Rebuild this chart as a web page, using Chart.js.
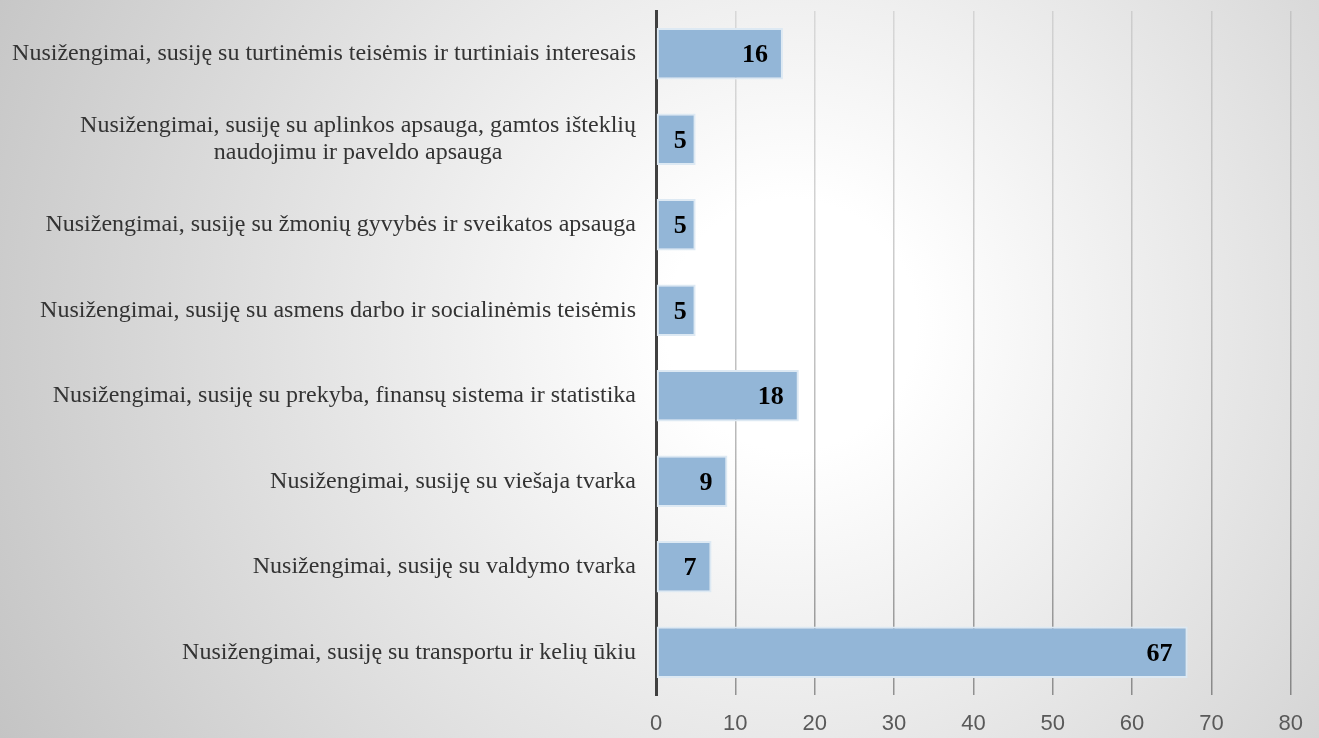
<!DOCTYPE html>
<html>
<head>
<meta charset="utf-8">
<script src="https://cdn.jsdelivr.net/npm/chart.js@4/dist/chart.umd.min.js"></script>
<style>
  html, body { margin: 0; padding: 0; }
  body {
    width: 1319px; height: 738px; overflow: hidden;
    background: radial-gradient(circle farthest-corner at 60% 44%, #ffffff 0%, #ffffff 14%, #c4c4c4 100%);
  }
  #wrap { position: relative; width: 1319px; height: 738px; }
</style>
</head>
<body>
<div id="wrap"><canvas id="c" width="1319" height="738"></canvas></div>
<script>
const categories = [
  ["Nusižengimai, susiję su turtinėmis teisėmis ir turtiniais interesais"],
  ["Nusižengimai, susiję su aplinkos apsauga, gamtos išteklių", "naudojimu ir paveldo apsauga"],
  ["Nusižengimai, susiję su žmonių gyvybės ir sveikatos apsauga"],
  ["Nusižengimai, susiję su asmens darbo ir socialinėmis teisėmis"],
  ["Nusižengimai, susiję su prekyba, finansų sistema ir statistika"],
  ["Nusižengimai, susiję su viešaja tvarka"],
  ["Nusižengimai, susiję su valdymo tvarka"],
  ["Nusižengimai, susiję su transportu ir kelių ūkiu"]
];
const values = [16, 5, 5, 5, 18, 9, 7, 67];
const xTicks = [0, 10, 20, 30, 40, 50, 60, 70, 80];

const labelFont = "24px 'Liberation Serif', 'Times New Roman', serif";

const catLabelPlugin = {
  id: 'catLabels',
  afterDraw(chart) {
    const ctx = chart.ctx;
    const y = chart.scales.y;
    const rightX = chart.chartArea.left - 20;
    ctx.save();
    ctx.font = labelFont;
    ctx.fillStyle = '#333333';
    ctx.textBaseline = 'middle';
    ctx.textAlign = 'center';
    const lh = 27;
    categories.forEach((lines, i) => {
      const cy = y.getPixelForValue(i);
      const w = Math.max(...lines.map(l => ctx.measureText(l).width));
      const cx = rightX - w / 2;
      const start = cy - (lines.length - 1) * lh / 2;
      lines.forEach((l, j) => ctx.fillText(l, cx, start + j * lh));
    });
    ctx.restore();
  }
};

const valueLabelPlugin = {
  id: 'valueLabels',
  afterDatasetsDraw(chart) {
    const ctx = chart.ctx;
    const meta = chart.getDatasetMeta(0);
    ctx.save();
    ctx.font = "bold 26px 'Liberation Serif', 'Times New Roman', serif";
    ctx.fillStyle = '#000000';
    ctx.textAlign = 'right';
    ctx.textBaseline = 'middle';
    meta.data.forEach((bar, i) => {
      const x = Math.max(bar.x - 15, bar.base + 30);
      ctx.fillText(String(values[i]), x, bar.y + 2);
    });
    ctx.restore();
  }
};

function gridColor(c) {
  const chart = c.chart;
  const area = chart.chartArea;
  if (!area) return 'rgba(0,0,0,0.2)';
  const g = chart.ctx.createLinearGradient(0, area.top, 0, area.bottom);
  g.addColorStop(0, 'rgba(0,0,0,0.10)');
  g.addColorStop(1, 'rgba(0,0,0,0.38)');
  return g;
}

new Chart(document.getElementById('c'), {
  type: 'bar',
  data: {
    labels: categories,
    datasets: [{
      data: values,
      backgroundColor: '#93b6d7',
      borderColor: '#dde9f3',
      borderWidth: 2,
      borderSkipped: false,
      barPercentage: 0.6,
      categoryPercentage: 1.0
    }]
  },
  options: {
    indexAxis: 'y',
    responsive: false,
    animation: false,
    layout: { padding: { top: 11, right: 27, bottom: 0, left: 0 } },
    plugins: { legend: { display: false }, tooltip: { enabled: false } },
    scales: {
      x: {
        min: 0, max: 80,
        afterBuildTicks(scale) { scale.ticks = xTicks.map(v => ({ value: v })); },
        afterFit(scale) { scale.height = 43; },
        ticks: {
          padding: 16,
          color: '#595959',
          font: { family: "'Liberation Sans Narrow', 'Liberation Sans', sans-serif", size: 22 }
        },
        grid: { color: gridColor, lineWidth: 1.5, drawTicks: false },
        border: { display: false }
      },
      y: {
        ticks: { display: false },
        grid: { display: false, drawTicks: false },
        border: { display: true, color: '#404040', width: 3 },
        afterFit(scale) { scale.width = 656; }
      }
    }
  },
  plugins: [catLabelPlugin, valueLabelPlugin]
});
</script>
</body>
</html>
